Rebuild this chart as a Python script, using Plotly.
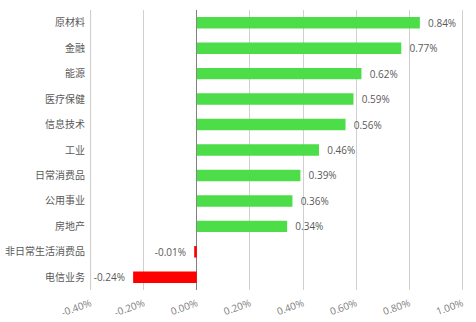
import plotly.graph_objects as go

categories = ["原材料", "金融", "能源", "医疗保健", "信息技术", "工业", "日常消费品", "公用事业", "房地产", "非日常生活消费品", "电信业务"]
values = [0.84, 0.77, 0.62, 0.59, 0.56, 0.46, 0.39, 0.36, 0.34, -0.01, -0.24]
tick_vals = [-0.4, -0.2, 0.0, 0.2, 0.4, 0.6, 0.8, 1.0]
tick_text = ["-0.40%", "-0.20%", "0.00%", "0.20%", "0.40%", "0.60%", "0.80%", "1.00%"]

colors = ["#4CDD48" if v >= 0 else "#FF0000" for v in values]
labels = [("  " + f"{v:.2f}%") if v >= 0 else (f"{v:.2f}%" + "  ") for v in values]

fig = go.Figure()
fig.add_trace(go.Bar(
    y=categories, x=values, orientation="h",
    marker=dict(color=colors, line=dict(width=0)),
    text=labels, textposition="outside", cliponaxis=False,
    textfont=dict(size=10, color="#595959", family="Open Sans, Noto Sans, sans-serif"),
))
fig.update_layout(
    width=476, height=322,
    margin=dict(l=88, r=11, t=10, b=32),
    paper_bgcolor="white", plot_bgcolor="white",
    bargap=0.55, showlegend=False, uniformtext=dict(minsize=10, mode="show"),
    font=dict(family="Noto Sans CJK SC", color="#595959"),
)
fig.update_xaxes(
    range=[-0.41, 1.01], tickvals=tick_vals, ticktext=tick_text, tickangle=-20,
    showgrid=True, gridcolor="#D0D0D0", gridwidth=1,
    zeroline=True, zerolinecolor="#808080", zerolinewidth=1,
    showline=False, ticks="", automargin=False, ticklabelstandoff=5,
    tickfont=dict(size=10, color="#7F7F7F", family="Open Sans, sans-serif"),
)
fig.update_yaxes(
    categoryorder="array", categoryarray=categories, autorange="reversed",
    showgrid=False, ticks="", showline=False, automargin=False, ticklabelstandoff=2,
    tickfont=dict(size=10, color="#595959", family="Noto Sans CJK SC"),
)
fig.add_vline(x=tick_vals[0], line=dict(color="#D0D0D0", width=1), layer="below")
fig.write_html("out.html")
